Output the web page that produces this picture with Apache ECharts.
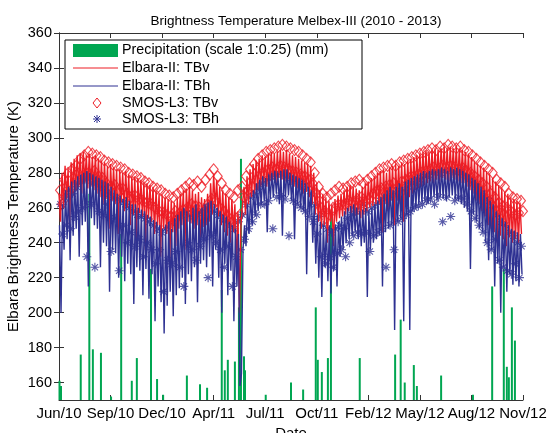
<!DOCTYPE html>
<html>
<head>
<meta charset="utf-8">
<script src="https://cdn.jsdelivr.net/npm/echarts@6/dist/echarts.min.js"></script>
<style>
  html, body { margin: 0; padding: 0; background: #fff; }
  #chart { width: 547px; height: 433px; }
</style>
</head>
<body>
<div id="chart"></div>
<script>
// x axis: days since 1 Jun 2010, ticks every 102 days
var tickLabels = ['Jun/10', 'Sep/10', 'Dec/10', 'Apr/11', 'Jul/11', 'Oct/11', 'Feb/12', 'May/12', 'Aug/12', 'Nov/12'];
var tickStep = 102;
var yTicks = [160, 180, 200, 220, 240, 260, 280, 300, 320, 340, 360];

// Elbara samples every 3 days, SMOS samples every 4 days
var elbaraStep = 3;
var smosStep = 4;

var tbvElbara = [
  268,252,280,260,284,265,282,250,286,268, 288,270,290,272,291,268,292,274,290,271,
  291,272,289,270,290,268,288,266,287,262, 286,265,284,248,285,264,283,262,282,245,
  282,263,280,258,281,260,279,250,278,256, 278,240,277,257,276,255,275,236,274,254,
  273,252,272,245,270,250,268,232,267,248, 266,245,265,228,264,246,263,238,265,248,
  268,250,270,236,271,252,272,251,270,248, 268,250,269,240,266,249,265,250,268,252,
  274,256,279,260,276,255,272,250,270,246, 268,244,266,240,265,246,262,226,258,200,
  250,262,272,256,278,262,282,266,285,268, 287,270,288,272,290,274,289,272,291,275,
  292,276,291,274,292,277,293,276,292,275, 293,276,291,273,290,272,289,271,288,270,
  287,268,286,269,285,266,284,262,280,256, 274,252,270,248,268,250,266,240,264,252,
  262,238,265,252,267,254,268,255,270,256, 272,258,273,257,272,255,271,256,270,254,
  272,256,274,258,275,260,277,261,278,262, 280,262,281,246,282,262,280,258,283,264,
  284,250,285,264,284,262,286,252,285,265, 287,266,288,268,289,270,290,271,291,272,
  292,273,293,274,292,275,293,274,294,276, 293,275,294,277,295,276,294,275,295,277,
  294,276,295,275,294,274,293,274,292,272, 291,270,289,268,287,264,285,262,284,258,
  283,255,281,250,279,248,277,246,275,240, 273,244,271,242,269,238,268,243,266,240,
  265,242,264,240,263,245];

var tbhElbara = [
  250,200,262,236,270,242,272,230,275,244, 276,248,278,232,279,250,280,252,281,215,
  280,254,279,250,278,248,277,226,276,240, 275,238,274,212,272,236,270,234,268,220,
  267,232,265,218,266,228,264,222,262,205, 262,226,260,224,259,210,258,225,256,208,
  255,222,253,195,252,215,250,206,248,188, 250,204,252,212,248,198,254,210,256,214,
  258,220,260,205,258,222,256,218,260,226, 262,206,258,228,260,230,262,226,263,232,
  264,215,262,236,260,220,258,200,256,228, 255,210,252,224,250,195,248,215,245,158,
  165,236,250,238,262,245,266,250,270,255, 274,258,276,262,278,264,277,246,279,265,
  280,266,281,268,280,262,281,244,282,266, 282,267,280,264,279,242,278,262,277,260,
  276,258,274,222,272,256,270,240,262,228, 256,220,252,209,250,226,248,218,250,211,
  248,224,250,215,252,232,255,236,258,240, 260,242,261,244,262,246,260,242,258,238,
  259,240,260,209,258,236,260,240,262,242, 264,244,266,215,268,246,270,248,272,250,
  270,190,272,252,274,254,272,195,275,256, 276,190,277,258,278,260,279,262,280,263,
  281,264,280,262,281,265,282,266,281,264, 282,266,283,265,282,264,281,266,283,267,
  282,265,283,264,282,262,281,260,280,258, 279,225,277,256,276,252,274,248,272,246,
  270,240,266,230,264,236,262,215,258,228, 256,200,254,226,252,212,250,222,248,216,
  247,218,246,215,245,222];

var tbvSmos = [
  270,262,276,266,280,268,282,272,284,276, 288,278,290,280,292,279,291,281,290,278,
  289,277,287,274,286,272,285,273,284,270, 283,271,282,268,280,266,279,267,278,265,
  277,264,275,263,274,262,272,260,271,258, 270,257,268,256,267,255,266,258,268,257,
  270,259,272,260,274,262,273,261,275,260, 272,258,276,262,279,265,282,264,278,260,
  274,258,270,255,268,252,266,254,270,256, 272,266,278,270,282,272,285,276,288,279,
  290,280,292,282,293,283,294,282,295,284, 296,283,295,282,294,281,293,280,292,279,
  290,278,288,276,286,274,280,268,272,260, 268,258,266,256,268,260,270,261,272,262,
  271,262,272,264,274,263,275,265,276,266, 274,264,276,265,278,268,280,270,282,271,
  283,272,284,273,285,274,284,272,286,275, 287,276,288,277,289,278,290,279,291,280,
  292,281,293,282,294,283,293,282,295,284, 294,283,296,284,295,283,294,282,295,283,
  293,281,292,280,290,278,288,276,286,274, 284,272,282,268,280,266,276,263,274,261,
  272,260,268,258,266,256,265,257,264,258];

var tbhSmos = [
  262,245,266,250,270,248,268,255,272,258, 275,260,276,232,278,262,274,226,276,258,
  272,256,270,262,268,235,266,254,265,224, 264,250,262,240,260,246,258,238,256,242,
  255,232,254,240,252,236,250,228,248,236, 246,212,248,230,250,228,252,235,254,226,
  256,215,258,240,256,236,255,230,257,238, 258,242,260,220,262,244,258,240,256,236,
  254,226,252,238,250,215,248,232,252,236, 256,242,262,248,266,252,268,256,272,262,
  274,262,276,264,278,248,279,266,280,267, 279,265,278,244,277,264,276,262,275,260,
  274,258,272,255,268,252,262,245,255,232, 250,228,248,232,246,226,248,234,250,236,
  248,232,254,240,256,244,258,246,260,245, 262,246,258,235,260,244,262,246,264,248,
  266,226,266,250,268,236,268,252,270,254, 270,256,272,258,274,260,275,261,276,262,
  278,264,279,265,280,262,281,266,280,252, 281,266,282,255,281,264,280,266,282,265,
  279,262,276,258,274,254,272,250,268,246, 266,240,264,236,260,242,256,230,252,226,
  250,224,246,222,244,228,240,220,238,226];

// precipitation bars (top of bar on the K axis, scale 1:0.25)
var precipDays = [1, 4, 43, 60, 67, 83, 103, 123, 144, 154, 182, 194, 206, 253, 279, 293,
  322, 328, 334, 348, 356, 360, 366, 368, 409, 459, 483, 508, 512, 520, 532, 538, 595,
  665, 676, 684, 702, 708, 756, 819, 857, 880, 886, 890, 896, 902];
var precipTop = [161, 158, 176, 268, 179, 177, 152, 245, 161, 174, 225, 162, 153, 164, 159, 157,
  213, 167, 173, 172, 203, 288, 175, 167, 153, 160, 156, 203, 173, 166, 174, 258, 174,
  176, 196, 160, 170, 158, 164, 153, 215, 225, 169, 163, 203, 184];

var RED = '#ed1c24', BLUE = '#2e3192', GREEN = '#00a651';
var FONT = "'Liberation Sans', Arial, sans-serif";

function bySample(arr, step, offset) {
  return arr.map(function (v, i) { return [i * step + offset, v]; });
}

var chart = echarts.init(document.getElementById('chart'));

var xBase = {
  type: 'value',
  min: 0,
  max: tickStep * (tickLabels.length - 1),
  interval: tickStep,
  splitLine: { show: false },
  axisLine: { lineStyle: { color: '#333', width: 1 } },
  axisTick: { inside: true, length: 5, lineStyle: { color: '#333' } }
};

var yBase = {
  type: 'value',
  min: 150,
  max: 360,
  splitLine: { show: false },
  axisLine: { show: true, lineStyle: { color: '#333', width: 1 } },
  axisTick: { show: true, inside: true, length: 5, customValues: yTicks, lineStyle: { color: '#333' } }
};

// legend drawn by hand, MATLAB style
var lx = 73, lt = 97;
var legendGraphics = [
  { type: 'rect', shape: { x: 65, y: 40, width: 297, height: 89 },
    style: { fill: '#fff', stroke: '#000', lineWidth: 1 }, z: 100 },
  { type: 'rect', shape: { x: lx, y: 44, width: 45, height: 13 }, style: { fill: GREEN }, z: 101 },
  { type: 'line', shape: { x1: lx, y1: 68, x2: lx + 45, y2: 68 }, style: { stroke: RED, lineWidth: 1 }, z: 101 },
  { type: 'line', shape: { x1: lx, y1: 86, x2: lx + 45, y2: 86 }, style: { stroke: BLUE, lineWidth: 1 }, z: 101 },
  { type: 'polygon', shape: { points: [[lt, 98], [lt + 4, 103], [lt, 108], [lt - 4, 103]] },
    style: { fill: 'none', stroke: RED, lineWidth: 1 }, z: 101 },
  { type: 'line', shape: { x1: lt, y1: 115, x2: lt, y2: 123 }, style: { stroke: BLUE, lineWidth: 1 }, z: 101 },
  { type: 'line', shape: { x1: lt - 4, y1: 119, x2: lt + 4, y2: 119 }, style: { stroke: BLUE, lineWidth: 1 }, z: 101 },
  { type: 'line', shape: { x1: lt - 3, y1: 116, x2: lt + 3, y2: 122 }, style: { stroke: BLUE, lineWidth: 1 }, z: 101 },
  { type: 'line', shape: { x1: lt + 3, y1: 116, x2: lt - 3, y2: 122 }, style: { stroke: BLUE, lineWidth: 1 }, z: 101 }
];
var legendTexts = ['Precipitation (scale 1:0.25) (mm)', 'Elbara-II: TBv', 'Elbara-II: TBh', 'SMOS-L3: TBv', 'SMOS-L3: TBh'];
var legendRows = [50, 68, 86, 103, 119];
legendTexts.forEach(function (t, i) {
  legendGraphics.push({
    type: 'text', x: 122, y: legendRows[i], z: 101,
    style: { text: t, fontSize: 14.3, fontFamily: FONT, fill: '#000', verticalAlign: 'middle' }
  });
});

chart.setOption({
  animation: false,
  backgroundColor: '#fff',
  title: {
    text: 'Brightness Temperature Melbex-III (2010 - 2013)',
    left: 291,
    top: 9,
    textAlign: 'center',
    textStyle: { fontSize: 13.5, fontWeight: 'normal', color: '#000', fontFamily: FONT }
  },
  grid: { left: 59, right: 24, top: 33, bottom: 33, containLabel: false, outerBoundsMode: 'none' },
  xAxis: [
    Object.assign({}, xBase, {
      position: 'bottom',
      name: 'Date',
      nameLocation: 'middle',
      nameGap: 26,
      nameMoveOverlap: false,
      nameTextStyle: { fontSize: 15, color: '#000', fontFamily: FONT },
      axisLabel: {
        margin: 6, fontSize: 15, color: '#000', fontFamily: FONT,
        formatter: function (v) { return tickLabels[Math.round(v / tickStep)]; }
      }
    }),
    Object.assign({}, xBase, { position: 'top', axisLabel: { show: false } })
  ],
  yAxis: [
    Object.assign({}, yBase, {
      position: 'left',
      name: 'Elbara Brightness Temperature (K)',
      nameLocation: 'middle',
      nameGap: 38,
      nameMoveOverlap: false,
      nameTextStyle: { fontSize: 15, color: '#000', fontFamily: FONT },
      axisLabel: { customValues: yTicks, margin: 7, fontSize: 14.5, color: '#000', fontFamily: FONT }
    }),
    Object.assign({}, yBase, { position: 'right', axisLabel: { show: false } })
  ],
  graphic: legendGraphics,
  series: [
    {
      name: 'Precipitation (scale 1:0.25) (mm)',
      type: 'bar',
      barWidth: 2,
      clip: true,
      itemStyle: { color: GREEN },
      data: precipDays.map(function (d, i) { return [d, precipTop[i]]; })
    },
    {
      name: 'Elbara-II: TBv',
      type: 'line',
      showSymbol: false,
      symbol: 'none',
      lineStyle: { color: RED, width: 1.4 },
      data: bySample(tbvElbara, elbaraStep, 0)
    },
    {
      name: 'Elbara-II: TBh',
      type: 'line',
      showSymbol: false,
      symbol: 'none',
      lineStyle: { color: BLUE, width: 1.4 },
      data: bySample(tbhElbara, elbaraStep, 1)
    },
    {
      name: 'SMOS-L3: TBv',
      type: 'scatter',
      symbol: 'diamond',
      symbolSize: [9, 11],
      itemStyle: { color: 'rgba(0,0,0,0)', borderColor: RED, borderWidth: 1.1 },
      data: bySample(tbvSmos, smosStep, 2)
    },
    {
      name: 'SMOS-L3: TBh',
      type: 'scatter',
      symbol: 'path://M5,0 L5,10 M0,5 L10,5 M1.5,1.5 L8.5,8.5 M8.5,1.5 L1.5,8.5',
      symbolSize: 9,
      itemStyle: { color: 'rgba(0,0,0,0)', borderColor: BLUE, borderWidth: 1.1 },
      data: bySample(tbhSmos, smosStep, 3)
    }
  ]
});
</script>
</body>
</html>
